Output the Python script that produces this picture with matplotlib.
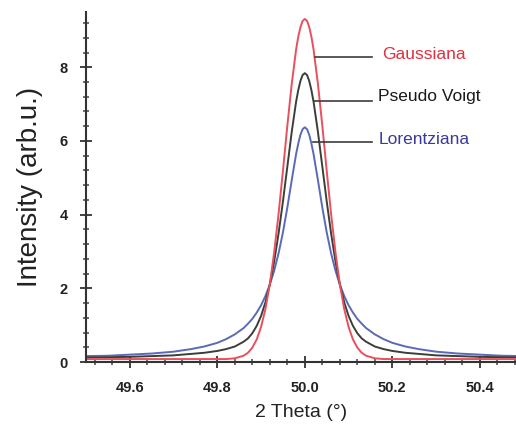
import matplotlib
matplotlib.use("Agg")
import matplotlib.pyplot as plt
from matplotlib.ticker import MultipleLocator, FixedLocator

plt.rcParams['font.family'] = ['Liberation Sans', 'DejaVu Sans']

# 2-theta positions (degrees)
two_theta = [49.50, 49.55, 49.60, 49.65, 49.70, 49.74, 49.77, 49.80, 49.82, 49.84,
             49.86, 49.87, 49.88, 49.89, 49.90, 49.91, 49.92, 49.93, 49.94, 49.95,
             49.96, 49.97, 49.98, 49.985, 49.99, 49.995, 50.00, 50.005, 50.01, 50.015,
             50.02, 50.03, 50.04, 50.05,
             50.06, 50.07, 50.08, 50.09, 50.10, 50.11, 50.12, 50.13, 50.14, 50.16,
             50.18, 50.20, 50.23, 50.26, 50.30, 50.35, 50.40, 50.45, 50.50]

gaussiana = [0.08, 0.08, 0.08, 0.08, 0.08, 0.08, 0.08, 0.08, 0.08, 0.10,
             0.17, 0.25, 0.39, 0.61, 0.95, 1.44, 2.11, 2.98, 4.02, 5.19,
             6.41, 7.54, 8.48, 8.83, 9.09, 9.26, 9.31, 9.26, 9.09, 8.83,
             8.48, 7.54, 6.41, 5.19,
             4.02, 2.98, 2.11, 1.44, 0.95, 0.61, 0.39, 0.25, 0.17, 0.10,
             0.08, 0.08, 0.08, 0.08, 0.08, 0.08, 0.08, 0.08, 0.08]

pseudo_voigt = [0.12, 0.13, 0.14, 0.16, 0.18, 0.22, 0.25, 0.30, 0.35, 0.42,
                0.55, 0.64, 0.78, 0.98, 1.25, 1.62, 2.11, 2.73, 3.49, 4.36,
                5.30, 6.24, 7.06, 7.38, 7.63, 7.79, 7.84, 7.79, 7.63, 7.38,
                7.06, 6.24, 5.30, 4.36,
                3.49, 2.73, 2.11, 1.62, 1.25, 0.98, 0.78, 0.64, 0.55, 0.42,
                0.35, 0.30, 0.25, 0.22, 0.18, 0.16, 0.14, 0.13, 0.12]

lorentziana = [0.16, 0.17, 0.20, 0.23, 0.28, 0.35, 0.42, 0.52, 0.62, 0.75,
               0.92, 1.04, 1.17, 1.34, 1.54, 1.79, 2.10, 2.48, 2.95, 3.52,
               4.19, 4.93, 5.64, 5.93, 6.17, 6.32, 6.37, 6.32, 6.17, 5.93,
               5.64, 4.93, 4.19, 3.52,
               2.95, 2.48, 2.10, 1.79, 1.54, 1.34, 1.17, 1.04, 0.92, 0.75,
               0.62, 0.52, 0.42, 0.35, 0.28, 0.23, 0.20, 0.17, 0.16]

labels = ['Gaussiana', 'Pseudo Voigt', 'Lorentziana']
label_colors = ['#e03040', '#1a1a1a', '#3a3a9c']
line_colors = ['#e8505c', '#3a3f3a', '#5a6ab8']
# leader lines: (x start, x end, y) and text anchor (x, y)
leader_y = [8.27, 7.08, 5.96]
leader_x0 = [50.023, 50.020, 50.018]
leader_x1 = 50.154
text_x = [50.177, 50.168, 50.168]
text_y = [8.35, 7.20, 6.04]

fig = plt.figure(figsize=(5.16, 4.26), dpi=100)
ax = fig.add_axes([86 / 516, 64 / 426, 1 - 86 / 516, 350 / 426])

series = [gaussiana, pseudo_voigt, lorentziana]
for ys, c in zip(series[::-1], line_colors[::-1]):
    ax.plot(two_theta, ys, color=c, lw=1.4, solid_joinstyle='round')

for i in range(3):
    ax.plot([leader_x0[i], leader_x1], [leader_y[i], leader_y[i]],
            color='#3c3c3c', lw=1.2)
    ax.text(text_x[i], text_y[i], labels[i], color=label_colors[i],
            fontsize=12.5, va='center', ha='left')

ax.set_xlim(49.5, 50.4825)
ax.set_ylim(0, 9.5)

for s in ['top', 'right']:
    ax.spines[s].set_visible(False)
for s in ['left', 'bottom']:
    ax.spines[s].set_linewidth(1.5)
    ax.spines[s].set_color('#333333')

ax.xaxis.set_major_locator(FixedLocator([49.6, 49.8, 50.0, 50.2, 50.4]))
ax.xaxis.set_minor_locator(MultipleLocator(0.04))
ax.yaxis.set_major_locator(FixedLocator([0, 2, 4, 6, 8]))
ax.yaxis.set_minor_locator(MultipleLocator(0.4))
ax.set_xticklabels(['49.6', '49.8', '50.0', '50.2', '50.4'])
ax.set_yticklabels(['0', '2', '4', '6', '8'])

ax.tick_params(which='major', direction='inout', length=8, width=1.3,
               color='#333333', labelsize=10.5, labelcolor='#222222')
ax.tick_params(which='minor', direction='inout', length=5, width=1.1,
               color='#444444')
ax.tick_params(axis='x', which='major', pad=10)
ax.tick_params(axis='y', which='major', pad=9)
for lab in ax.get_xticklabels() + ax.get_yticklabels():
    lab.set_fontweight('bold')

ax.set_xlabel('2 Theta (°)', fontsize=14, color='#222222', labelpad=6)
ax.set_ylabel('Intensity (arb.u.)', fontsize=20, color='#222222', labelpad=12)

fig.savefig('out.png', dpi=100)
